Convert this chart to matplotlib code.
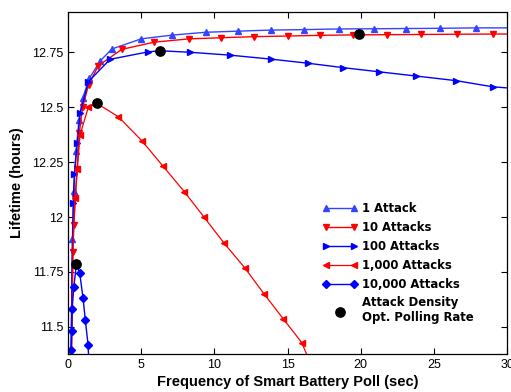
# Battery lifetime vs smart battery poll interval, per attack density

import numpy as np
import matplotlib.pyplot as plt
from matplotlib.ticker import FormatStrFormatter

# 1 attack
x_1 = [0.2, 0.3, 0.4, 0.55, 0.75, 1.0, 1.45, 2.2, 3.0, 5.0, 7.1, 9.4, 11.6, 13.9,
       16.1, 18.5, 20.9, 23.1, 25.4, 27.9, 30]
y_1 = [11.3, 11.9, 12.12, 12.3, 12.44, 12.54, 12.63, 12.71, 12.764, 12.81, 12.827,
       12.84, 12.845, 12.85, 12.852, 12.855, 12.856, 12.857, 12.858, 12.86, 12.86]

# 10 attacks
x_10 = [0.22, 0.33, 0.4, 0.5, 0.62, 0.77, 1.0, 1.4, 2.07, 3.67, 5.88, 8.27, 10.45,
        12.71, 15.04, 17.22, 19.48, 21.8, 24.13, 26.57, 29.07, 30]
y_10 = [11.3, 11.84, 11.964, 12.085, 12.22, 12.38, 12.5, 12.6, 12.688, 12.762,
        12.795, 12.81, 12.815, 12.82, 12.823, 12.826, 12.828, 12.829, 12.83,
        12.831, 12.832, 12.832]

# 100 attacks
x_100 = [0.2, 0.28, 0.36, 0.43, 0.64, 0.82, 1.39, 2.87, 5.49, 6.29, 8.34, 11.07,
         13.85, 16.43, 18.82, 21.28, 23.79, 26.52, 29.03, 30]
y_100 = [11.3, 11.78, 12.065, 12.195, 12.338, 12.471, 12.615, 12.717, 12.751,
         12.756, 12.749, 12.736, 12.718, 12.699, 12.679, 12.66, 12.641, 12.62,
         12.592, 12.587]

# 1,000 attacks
x_1000 = [0.22, 0.35, 0.48, 0.64, 0.82, 1.39, 1.96, 3.44, 5.04, 6.47, 7.95, 9.30,
          10.68, 12.10, 13.40, 14.72, 15.97, 16.6]
y_1000 = [11.3, 11.9, 12.086, 12.22, 12.373, 12.499, 12.517, 12.456, 12.347,
          12.233, 12.115, 11.999, 11.880, 11.767, 11.650, 11.536, 11.429, 11.33]

# 10,000 attacks
x_10k = [0.19, 0.22, 0.25, 0.28, 0.4, 0.57, 0.8, 1.03, 1.18, 1.37, 1.43]
y_10k = [11.3, 11.395, 11.483, 11.582, 11.683, 11.785, 11.744, 11.63, 11.532,
         11.42, 11.33]

# optimal polling rate per attack density
opt_x = [0.57, 1.96, 6.29, 19.91]
opt_y = [11.785, 12.517, 12.756, 12.832]

blue = '#0000ff'
red = '#ff0000'

fig = plt.figure(figsize=(5.11, 3.92), dpi=100)
ax = fig.add_axes([0.1331, 0.0969, 0.8591, 0.8724])

ax.plot(x_1, y_1, color='#3344ff', lw=1.0, marker='^', ms=5,
        markevery=list(range(1, len(x_1) - 1)), label='1 Attack')
ax.plot(x_10, y_10, color=red, lw=1.0, marker='v', ms=5,
        markevery=list(range(1, len(x_10) - 1)), label='10 Attacks')
ax.plot(x_100, y_100, color=blue, lw=1.0, marker='>', ms=5,
        markevery=[i for i in range(2, len(x_100) - 1) if i != 9], label='100 Attacks')
ax.plot(x_1000, y_1000, color=red, lw=0.9, marker='<', ms=5,
        markevery=[i for i in range(2, len(x_1000) - 1) if i != 6], label='1,000 Attacks')
ax.plot(x_10k, y_10k, color=blue, lw=1.0, marker='D', ms=4.5,
        markevery=[1, 2, 3, 4, 6, 7, 8, 9], label='10,000 Attacks')
ax.scatter(opt_x, opt_y, s=45, color='black', zorder=5,
           label='Attack Density\nOpt. Polling Rate')

ax.set_xlim(0, 30)
ax.set_ylim(11.377, 12.932)
ax.set_xticks([0, 5, 10, 15, 20, 25, 30])
ax.set_yticks([11.5, 11.75, 12, 12.25, 12.5, 12.75])
ax.yaxis.set_major_formatter(FormatStrFormatter('%g'))
ax.tick_params(direction='in', top=True, right=True, length=4, width=0.8,
               labelsize=9)
for lab in ax.get_xticklabels() + ax.get_yticklabels():
    lab.set_family('Liberation Sans')
for s in ax.spines.values():
    s.set_linewidth(0.9)

ax.set_xlabel('Frequency of Smart Battery Poll (sec)', fontsize=10.5,
              fontweight='bold', family='Liberation Sans', labelpad=3)
ax.set_ylabel('Lifetime (hours)', fontsize=10.5, fontweight='bold',
              family='Liberation Sans', labelpad=6)

leg = ax.legend(loc='center left', bbox_to_anchor=(0.555, 0.265), frameon=False,
                numpoints=2, scatterpoints=1, handlelength=3.0, handletextpad=0.45,
                labelspacing=0.5, prop={'family': 'DejaVu Sans', 'weight': 'bold',
                                        'size': 8.4})

fig.savefig('out.png', dpi=100)
